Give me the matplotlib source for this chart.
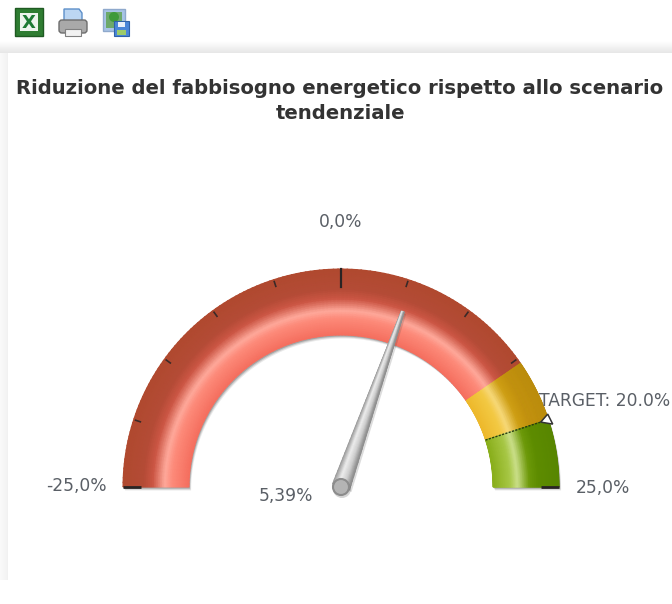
import numpy as np
import matplotlib
matplotlib.use("Agg")
import matplotlib.pyplot as plt
from matplotlib.colors import LinearSegmentedColormap
from matplotlib.patches import Circle, Polygon, Rectangle, FancyBboxPatch

plt.rcParams["font.family"] = ["DejaVu Sans"]

# Gauge data
TITLE = "Riduzione del fabbisogno energetico rispetto allo scenario\ntendenziale"
SCALE_MIN = -25.0
SCALE_MAX = 25.0
BAND_LIMITS = [-25.0, 15.4, 20.0, 25.0]
TICK_VALUES = [-20.0, -15.0, -10.0, -5.0, 5.0, 10.0, 15.0, 20.0]
MAJOR_TICKS = [-25.0, 0.0, 25.0]
NEEDLE_VALUE = 5.39
TARGET_VALUE = 20.0

# Colour stops go from the inner edge to the outer edge of the ring
BAND_STOPS = [
    [(0.0, "#f56f5f"), (0.25, "#fd8a79"), (0.37, "#ffa99b"), (0.55, "#cc5644"), (0.70, "#b44b36"), (1.0, "#b0492f")],
    [(0.0, "#eeb92c"), (0.25, "#f3c944"), (0.37, "#f8da7a"), (0.55, "#cf9f14"), (0.70, "#c3920f"), (1.0, "#bb8c0c")],
    [(0.0, "#8aaf1c"), (0.25, "#a8c846"), (0.37, "#cde18c"), (0.55, "#6e9a0a"), (0.70, "#5d8c00"), (1.0, "#588600")],
]

CX, CY = 341, 487
R_OUT, R_IN = 218, 152
TEXT = "#5a5f66"


def angle_of(value):
    return np.pi * (SCALE_MAX - value) / (SCALE_MAX - SCALE_MIN)


def polar(value, r):
    a = angle_of(value)
    return CX + r * np.cos(a), CY - r * np.sin(a)


def ring_outline(v0, v1, n=100):
    vals = np.linspace(v0, v1, n)
    x1, y1 = polar(vals, R_OUT)
    x2, y2 = polar(vals[::-1], R_IN)
    return np.r_[x1, x2], np.r_[y1, y2]


fig = plt.figure(figsize=(6.72, 6.04), dpi=100, facecolor="white")
ax = fig.add_axes([0, 0, 1, 1])
ax.set_xlim(0, 672)
ax.set_ylim(604, 0)
ax.axis("off")

# page shadow around the card
for i in range(12):
    ax.add_patch(Rectangle((0, 41 + i), 672, 1, color=str(0.995 - 0.008 * i), lw=0, zorder=0))
for i in range(8):
    ax.add_patch(Rectangle((i, 53), 1, 527, color=str(0.975 - 0.004 * i), lw=0, zorder=0))

# toolbar icons
ax.add_patch(Rectangle((15, 8), 28, 28, fc="#2f7d32", ec="#1f5a22", lw=1, zorder=2))
ax.add_patch(Rectangle((20, 13), 18, 18, fc="#eef4ee", lw=0, zorder=3))
ax.text(29, 22.5, "X", color="#1e7a34", fontsize=13, fontweight="bold", ha="center", va="center", zorder=4)

ax.add_patch(Polygon([(64, 9), (79, 9), (82, 13), (82, 22), (64, 22)], fc="#bcd6f2", ec="#5d8fc9", lw=1, zorder=2))
ax.add_patch(FancyBboxPatch((59, 20), 28, 13, boxstyle="round,pad=0,rounding_size=3", fc="#a9a9a9", ec="#6d6d6d", lw=1, zorder=3))
ax.add_patch(Rectangle((65, 29), 16, 7, fc="#f2f2f2", ec="#808080", lw=0.8, zorder=4))

ax.add_patch(Rectangle((103, 9), 22, 22, fc="#a8c4e6", ec="#8fa9cc", lw=1, zorder=2))
ax.add_patch(Rectangle((106, 12), 16, 16, fc="#6da96a", lw=0, zorder=3))
ax.add_patch(Circle((114, 17), 5, fc="#3f9a3a", lw=0, zorder=4))
ax.add_patch(Rectangle((114, 21), 15, 15, fc="#4a86d8", ec="#2f62a8", lw=0.8, zorder=5))
ax.add_patch(Rectangle((118, 22), 7, 5, fc="#e8f0fa", lw=0, zorder=6))
ax.add_patch(Rectangle((117, 30), 9, 5, fc="#9ccb6a", lw=0, zorder=6))

ax.text(340, 101, TITLE, color="#333333", fontsize=14.1, fontweight="bold", ha="center", va="center", linespacing=1.38)

# soft shadow under the ring
sx, sy = ring_outline(SCALE_MIN, SCALE_MAX)
for off, alpha in [(3.5, 0.10), (2.5, 0.16), (1.5, 0.25)]:
    ax.fill(sx + off * 0.6, sy + off, color="#303030", alpha=alpha, lw=0, zorder=3)

# coloured bands, shaded across the ring width
radii = np.linspace(R_IN, R_OUT, 34)
for i in range(len(BAND_STOPS)):
    v0, v1 = BAND_LIMITS[i], BAND_LIMITS[i + 1]
    vals = np.linspace(v0, v1, 120)
    rr, vv = np.meshgrid(radii, vals)
    xx, yy = polar(vv, rr)
    cmap = LinearSegmentedColormap.from_list(f"band{i}", BAND_STOPS[i])
    ax.pcolormesh(xx, yy, (rr - R_IN) / (R_OUT - R_IN), cmap=cmap, vmin=0, vmax=1,
                  shading="gouraud", zorder=4, rasterized=True)

# dotted border at the target
tx, ty = polar(np.array([TARGET_VALUE, TARGET_VALUE]), np.array([R_IN, R_OUT]))
ax.plot(tx, ty, color="#2a3a10", lw=1, ls=(0, (1.5, 1)), zorder=5)

# ticks
for v in TICK_VALUES:
    x, y = polar(np.array([v, v]), np.array([R_OUT - 7, R_OUT - 2]))
    ax.plot(x, y, color="#3a2a28", lw=1.2, zorder=6)
x, y = polar(np.array([MAJOR_TICKS[1], MAJOR_TICKS[1]]), np.array([R_OUT - 18, R_OUT]))
ax.plot(x, y, color="#2a2424", lw=1.6, zorder=6)
for v in (MAJOR_TICKS[0], MAJOR_TICKS[2]):
    x, y = polar(np.array([v, v]), np.array([R_OUT - 18, R_OUT]))
    ax.plot(x, y, color="#2a2424", lw=2, zorder=6, solid_capstyle="butt")

# target marker
mx, my = polar(TARGET_VALUE, R_OUT - 8)
ax.add_patch(Polygon([(mx, my), (mx + 7, my - 8), (mx + 12, my + 2)], fc="white", ec="#333333", lw=1.1, zorder=7))

# needle, shaded across its width
a = angle_of(NEEDLE_VALUE)
ux, uy = np.cos(a), -np.sin(a)
nx, ny = -uy, ux
along = np.linspace(0, 186, 40)
across = np.linspace(-1, 1, 15)
ss, tt = np.meshgrid(along, across)
half = 9 - 7.5 * ss / 186
xx = CX + ss * ux + tt * half * nx
yy = CY + ss * uy + tt * half * ny
needle_cmap = LinearSegmentedColormap.from_list("needle", ["#9a9a9a", "#eeeeee", "#d0d0d0", "#8c8c8c"])
ax.fill(np.r_[xx[0], xx[-1][::-1]] + 2, np.r_[yy[0], yy[-1][::-1]] + 2, color="#404040", alpha=0.18, lw=0, zorder=7)
ax.pcolormesh(xx, yy, (tt + 1) / 2, cmap=needle_cmap, vmin=0, vmax=1, shading="gouraud", zorder=8, rasterized=True)
ax.add_patch(Circle((CX + 1, CY + 2), 9, fc="#404040", alpha=0.22, lw=0, zorder=8))
ax.add_patch(Circle((CX, CY), 8, fc="#b4b4b4", ec="#8c8c8c", lw=1.5, zorder=9))

# labels
label_kw = dict(color=TEXT, fontsize=12.3, va="center")
ax.text(341, 222, "0,0%", ha="center", **label_kw)
ax.text(76, 486, "-25,0%", ha="center", **label_kw)
ax.text(603, 488, "25,0%", ha="center", **label_kw)
ax.text(286, 496, "5,39%", ha="center", **label_kw)
ax.text(539, 401, "TARGET: 20.0%", ha="left", zorder=10, **label_kw)

fig.savefig("out.png", dpi=100, facecolor="white")
